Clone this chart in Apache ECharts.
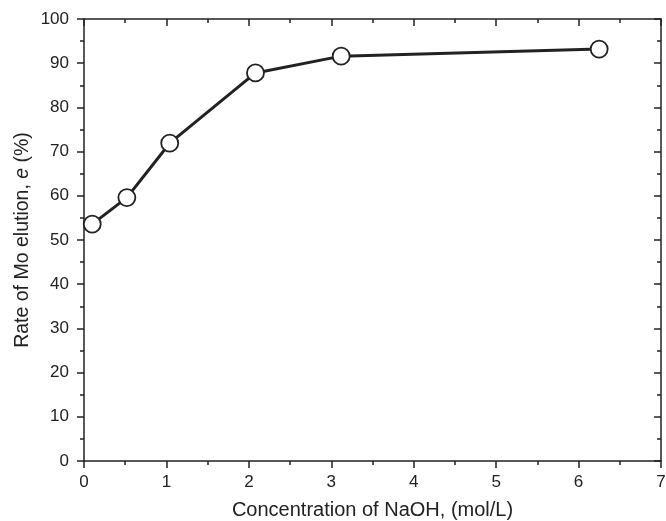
<!DOCTYPE html>
<html><head><meta charset="utf-8">
<script src="https://cdn.jsdelivr.net/npm/echarts@6/dist/echarts.min.js"></script>
<style>html,body{margin:0;padding:0;background:#fff}#c{width:666px;height:521px}</style>
</head><body><div id="c"></div>
<script>
const naoh = [0.10, 0.52, 1.04, 2.08, 3.12, 6.25];
const elution = [53.6, 59.6, 71.9, 87.8, 91.6, 93.2];
const xTicks = [0, 1, 2, 3, 4, 5, 6, 7];
const yTicks = [0, 10, 20, 30, 40, 50, 60, 70, 80, 90, 100];

const ink = '#222';
const font = '"Liberation Sans", Arial, sans-serif';
const axisBase = {
  axisLine: {show: true, onZero: false, lineStyle: {color: ink, width: 1.5}},
  splitLine: {show: false}
};
const chart = echarts.init(document.getElementById('c'));
chart.setOption({
  animation: false,
  grid: {left: 84, right: 5, top: 19, bottom: 60, containLabel: false, outerBoundsMode: 'none'},
  xAxis: [
    Object.assign({}, axisBase, {
      type: 'value', min: xTicks[0], max: xTicks[xTicks.length - 1], interval: 1, position: 'bottom',
      axisTick: {show: true, inside: false, length: 7, lineStyle: {color: ink, width: 1.5}},
      minorTick: {show: true, splitNumber: 2, length: 4, lineStyle: {color: ink, width: 1.5}},
      axisLabel: {color: ink, fontSize: 17, fontFamily: font, margin: 13},
      name: 'Concentration of NaOH, (mol/L)', nameLocation: 'middle', nameGap: 39,
      nameTextStyle: {color: ink, fontSize: 20, fontFamily: font}
    }),
    Object.assign({}, axisBase, {
      type: 'value', min: xTicks[0], max: xTicks[xTicks.length - 1], interval: 1, position: 'top',
      axisTick: {show: true, inside: true, length: 7, lineStyle: {color: ink, width: 1.5}},
      minorTick: {show: true, splitNumber: 2, length: 4, lineStyle: {color: ink, width: 1.5}},
      axisLabel: {show: false}
    })
  ],
  yAxis: [
    Object.assign({}, axisBase, {
      type: 'value', min: yTicks[0], max: yTicks[yTicks.length - 1], interval: 10, position: 'left',
      axisTick: {show: true, inside: false, length: 7, lineStyle: {color: ink, width: 1.5}},
      minorTick: {show: true, splitNumber: 2, length: 4, lineStyle: {color: ink, width: 1.5}},
      axisLabel: {color: ink, fontSize: 17, fontFamily: font, margin: 15},
      name: '{n|Rate of Mo elution, }{i|e}{n| (%)}', nameLocation: 'middle', nameGap: 51,
      nameMoveOverlap: false,
      nameTextStyle: {rich: {
        n: {color: ink, fontSize: 19.5, fontFamily: font},
        i: {color: ink, fontSize: 19.5, fontFamily: font, fontStyle: 'italic'}
      }}
    }),
    Object.assign({}, axisBase, {
      type: 'value', min: yTicks[0], max: yTicks[yTicks.length - 1], interval: 10, position: 'right',
      axisTick: {show: true, inside: true, length: 7, lineStyle: {color: ink, width: 1.5}},
      minorTick: {show: true, splitNumber: 2, length: 4, lineStyle: {color: ink, width: 1.5}},
      axisLabel: {show: false}
    })
  ],
  series: [{
    type: 'line',
    data: naoh.map((x, i) => [x, elution[i]]),
    symbol: 'circle', symbolSize: 17,
    lineStyle: {color: ink, width: 3},
    itemStyle: {color: '#fff', borderColor: ink, borderWidth: 1.8}
  }]
});
</script></body></html>
